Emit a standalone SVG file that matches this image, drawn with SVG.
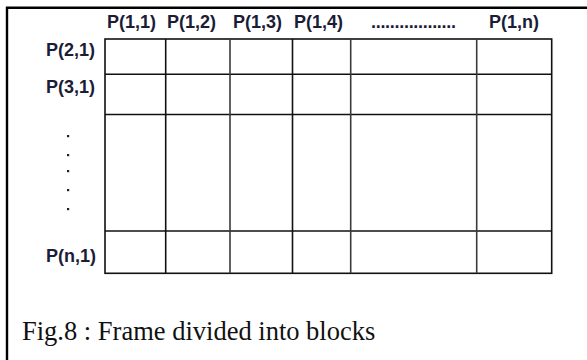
<svg xmlns="http://www.w3.org/2000/svg" width="587" height="360" viewBox="0 0 587 360">
<style>
.lbl{font-family:"Liberation Sans",Arial,sans-serif;font-weight:bold;font-size:18px;fill:#1c1c36}
.cap{font-family:"Liberation Serif","Times New Roman",serif;font-size:26.5px;fill:#111}
.g{stroke:#3a3a3a;stroke-width:1.6;fill:none}
.gk{stroke:#111;stroke-width:1.6;fill:none}
</style>
<rect width="587" height="360" fill="#fff"/>
<g id="frame">
<path d="M7,360 V7.7 H587" stroke="#000" stroke-width="2.4" fill="none"/>
</g>
<g id="grid">
<rect x="105" y="39" width="446.7" height="234.3" class="gk"/>
<line x1="105" y1="74.3" x2="551.7" y2="74.3" class="gk"/>
<line x1="105" y1="114.5" x2="551.7" y2="114.5" class="gk"/>
<line x1="105" y1="231" x2="551.7" y2="231" class="gk"/>
<line x1="165.7" y1="39" x2="165.7" y2="273.3" class="gk"/>
<line x1="230" y1="39" x2="230" y2="273.3" class="g"/>
<line x1="292.5" y1="39" x2="292.5" y2="273.3" class="gk"/>
<line x1="350.7" y1="39" x2="350.7" y2="273.3" class="g"/>
<line x1="476.7" y1="39" x2="476.7" y2="273.3" class="g"/>
</g>
<g id="col-labels">
<text class="lbl" x="107" y="28">P(1,1)</text>
<text class="lbl" x="167" y="28">P(1,2)</text>
<text class="lbl" x="233" y="28">P(1,3)</text>
<text class="lbl" x="294" y="28">P(1,4)</text>
<text class="lbl" x="371" y="28" textLength="85" lengthAdjust="spacing">..................</text>
<text class="lbl" x="489" y="28">P(1,n)</text>
</g>
<g id="row-labels">
<text class="lbl" x="46" y="56">P(2,1)</text>
<text class="lbl" x="46" y="93">P(3,1)</text>
<g fill="#1c1c36">
<rect x="67" y="135" width="2.2" height="2.2"/>
<rect x="67" y="154" width="2.2" height="2.2"/>
<rect x="67" y="170" width="2.2" height="2.2"/>
<rect x="67" y="189" width="2.2" height="2.2"/>
<rect x="67" y="208" width="2.2" height="2.2"/>
</g>
<text class="lbl" x="46" y="262">P(n,1)</text>
</g>
<g id="caption">
<text class="cap" x="22" y="340">Fig.8 : Frame divided into blocks</text>
</g>
</svg>
